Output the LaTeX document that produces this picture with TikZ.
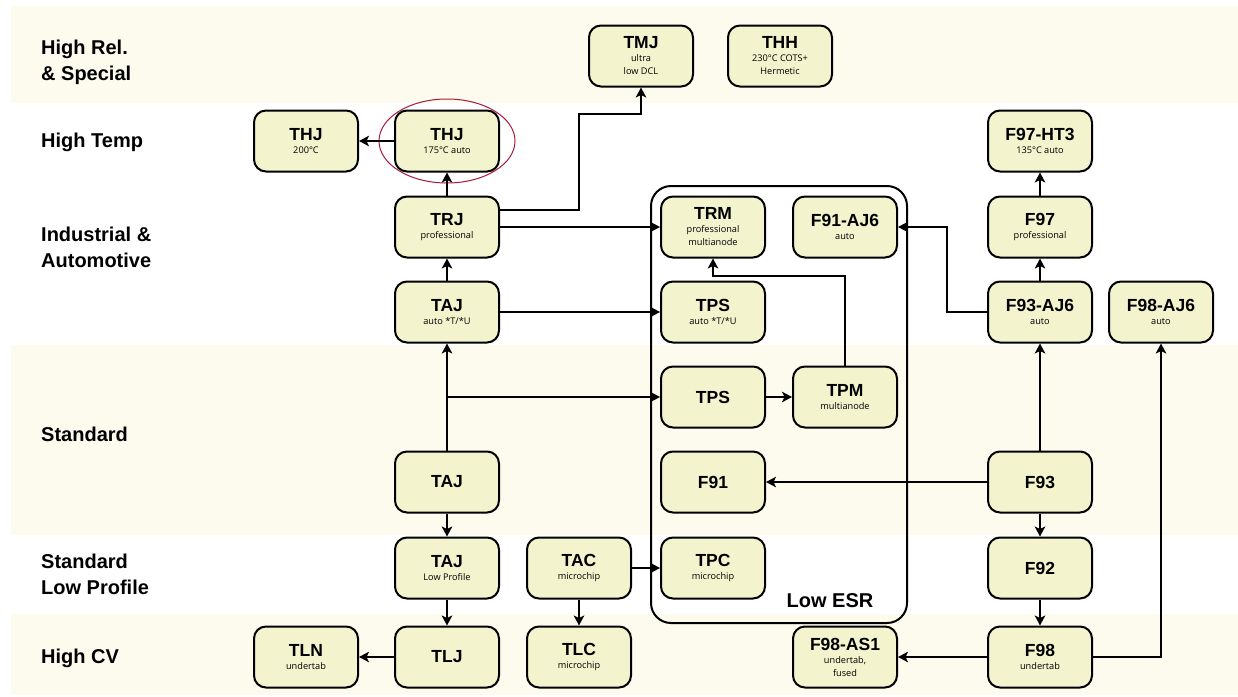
\documentclass[tikz,border=0pt]{standalone}
\usepackage{fontspec}
\setmainfont{Liberation Sans}
\newfontfamily\subfont{Open Sans}
\usetikzlibrary{arrows.meta}
\definecolor{band}{HTML}{FDFBEE}
\definecolor{nodefill}{HTML}{F3F4CD}
\definecolor{ring}{HTML}{A61A3C}
\newcommand{\ttl}[1]{{\rmfamily\fontsize{17.5}{13}\selectfont\bfseries #1}}

\begin{document}
\begin{tikzpicture}[x=1pt,y=-1pt,>={Stealth[length=10pt,width=10.5pt,inset=2.5pt]},
    part/.style={draw,line width=2pt,rounded corners=12pt,fill=nodefill,minimum width=104pt,
      minimum height=61pt,inner sep=0pt,align=center,font=\subfont\fontsize{9.2}{13}\selectfont},
    row/.style={anchor=west,align=left,inner sep=0pt,font=\bfseries\fontsize{20}{26}\selectfont},
    link/.style={->,line width=1.9pt}]
  \useasboundingbox (0,0) rectangle (1238,696);
  % bands
  \fill[band] (11,6) rectangle (1238,103);
  \fill[band] (11,345) rectangle (1238,535);
  \fill[band] (11,614) rectangle (1238,695);

  \node[row] (lrel) at (41,62) {High Rel.\\\& Special};
  \node[row] (ltemp) at (41,142) {High Temp};
  \node[row] (lind) at (41,247) {Industrial \&\\Automotive};
  \node[row] (lstd) at (41,434) {Standard};
  \node[row] (llow) at (41,574) {Standard\\Low Profile};
  \node[row] (lcv) at (41,658) {High CV};

  % low ESR group
  \draw[line width=2pt,rounded corners=20pt] (651,186) rectangle (907,623);
  \node[inner sep=0pt,font=\bfseries\fontsize{20}{24}\selectfont] (esr) at (830,601) {Low ESR};
  \draw[ring,line width=1pt] (447,141) ellipse [x radius=68pt,y radius=42pt];

  \node[part] (tmj) at (641,56) {\ttl{TMJ}\\ultra\\low DCL};
  \node[part] (thh) at (780,56) {\ttl{THH}\\230°C COTS+\\Hermetic};
  \node[part] (thjA) at (306,141) {\ttl{THJ}\\200°C};
  \node[part] (thjB) at (447,141) {\ttl{THJ}\\175°C auto};
  \node[part] (f97ht) at (1040,141) {\ttl{F97-HT3}\\135°C auto};
  \node[part] (trj) at (447,227) {\ttl{TRJ}\\professional};
  \node[part] (trm) at (713,227) {\ttl{TRM}\\professional\\multianode};
  \node[part] (f91aj) at (845,227) {\ttl{F91-AJ6}\\auto};
  \node[part] (f97) at (1040,227) {\ttl{F97}\\professional};
  \node[part] (taja) at (447,312) {\ttl{TAJ}\\auto *T/*U};
  \node[part] (tpsa) at (713,312) {\ttl{TPS}\\auto *T/*U};
  \node[part] (f93aj) at (1040,312) {\ttl{F93-AJ6}\\auto};
  \node[part] (f98aj) at (1161,312) {\ttl{F98-AJ6}\\auto};
  \node[part] (tpss) at (713,397) {\ttl{TPS}};
  \node[part] (tpm) at (845,397) {\ttl{TPM}\\multianode};
  \node[part] (tajs) at (447,482) {\ttl{TAJ}};
  \node[part] (f91) at (713,482) {\ttl{F91}};
  \node[part] (f93) at (1040,482) {\ttl{F93}};
  \node[part] (tajl) at (447,568) {\ttl{TAJ}\\Low Profile};
  \node[part] (tac) at (579,568) {\ttl{TAC}\\microchip};
  \node[part] (tpc) at (713,568) {\ttl{TPC}\\microchip};
  \node[part] (f92) at (1040,568) {\ttl{F92}};
  \node[part] (tln) at (306,657) {\ttl{TLN}\\undertab};
  \node[part] (tlj) at (447,657) {\ttl{TLJ}};
  \node[part] (tlc) at (579,657) {\ttl{TLC}\\microchip};
  \node[part] (f98as) at (845,657) {\ttl{F98-AS1}\\undertab,\\fused};
  \node[part] (f98) at (1040,657) {\ttl{F98}\\undertab};

  \path[link]
    (thjB) edge (thjA)
    (trj) edge (thjB)
    (trj) edge (trm)
    (taja) edge (trj)
    (taja) edge (tpsa)
    (tajs) edge (taja)
    (tpss) edge (tpm)
    (f97) edge (f97ht)
    (f93aj) edge (f97)
    (f93) edge (f93aj)
    (f93) edge (f91)
    (f93) edge (f92)
    (f92) edge (f98)
    (f98) edge (f98as)
    (tajs) edge (tajl)
    (tajl) edge (tlj)
    (tlj) edge (tln)
    (tac) edge (tpc)
    (tac) edge (tlc);

  \coordinate (up1) at (579,114);
  \coordinate (up2) at (845,276);
  \coordinate (up3) at (947,312);
  \draw[link] ([yshift=17pt]trj.east) -| (up1) -| (tmj);
  \draw[link] (tajs) |- (tpss);
  \draw[link] (tpm) -- (up2) -| (trm);
  \draw[link] (f93aj) -- (up3) |- (f91aj);
  \draw[link] (f98) -| (f98aj);
\end{tikzpicture}
\end{document}
